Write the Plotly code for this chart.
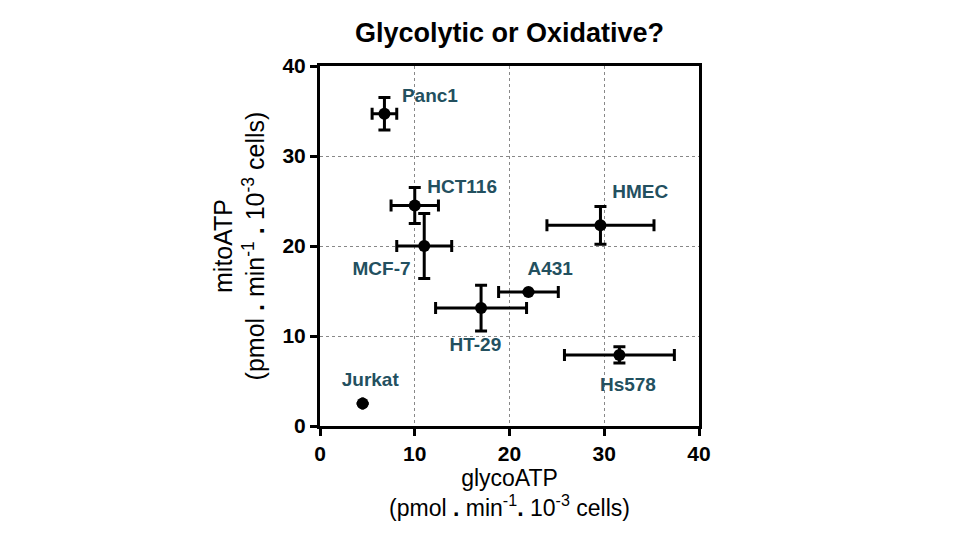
import plotly.graph_objects as go

cells = ["Panc1", "HCT116", "MCF-7", "HMEC", "A431", "HT-29", "Hs578", "Jurkat"]
glyco = [6.8, 10.0, 11.0, 29.6, 22.0, 17.0, 31.6, 4.5]
mito = [34.7, 24.5, 20.0, 22.3, 14.9, 13.1, 7.9, 2.5]
glyco_err = [1.3, 2.5, 2.9, 5.65, 3.15, 4.8, 5.8, 0.0]
mito_err = [1.8, 2.0, 3.6, 2.1, 0.0, 2.55, 0.9, 0.0]
label_x = [11.6, 15.0, 6.5, 33.8, 24.3, 16.4, 32.5, 5.3]
label_y = [36.5, 26.4, 17.3, 25.9, 17.3, 8.9, 4.4, 5.0]

x_ticks = [0, 10, 20, 30, 40]
y_ticks = [0, 10, 20, 30, 40]

LABEL_COLOR = "#23505f"
FONT = "Liberation Sans, Arial"

fig = go.Figure()
fig.add_trace(go.Scatter(
    x=glyco, y=mito, mode="markers",
    marker=dict(color="black", size=12),
    error_x=dict(type="data", array=glyco_err, color="black", thickness=3, width=6),
    error_y=dict(type="data", array=mito_err, color="black", thickness=3, width=6),
    showlegend=False, hoverinfo="skip",
))
fig.add_trace(go.Scatter(
    x=label_x, y=label_y, mode="text", text=cells,
    textfont=dict(family=FONT, size=19, color=LABEL_COLOR, weight="bold"),
    textposition="middle center", showlegend=False, hoverinfo="skip",
))

axis_common = dict(
    range=[0, 40], showline=True, linecolor="black", linewidth=3, mirror=True,
    ticks="outside", ticklen=7, tickwidth=3, tickcolor="black",
    showgrid=True, gridcolor="#888888", griddash="dot", gridwidth=1,
    zeroline=False,
    tickfont=dict(family=FONT, size=21, color="black", weight="bold"),
)

fig.update_layout(
    width=960, height=540,
    paper_bgcolor="white", plot_bgcolor="white",
    margin=dict(l=312, r=269, t=58, b=122),
    title=dict(text="<b>Glycolytic or Oxidative?</b>", xref="paper", x=0.5, xanchor="center",
               y=0.954, yanchor="middle",
               font=dict(family=FONT, size=27, color="black")),
    xaxis=dict(**axis_common, tickvals=x_ticks,
               title=dict(text="glycoATP<br>(pmol <b>.</b> min<sup>-1</sup><b>.</b> 10<sup>-3</sup> cells)",
                          font=dict(family=FONT, size=23, color="black"),
                          standoff=6)),
    yaxis=dict(**axis_common, tickvals=y_ticks,
               title=dict(text="mitoATP<br>(pmol <b>.</b> min<sup>-1</sup> <b>.</b> 10<sup>-3</sup> cells)",
                          font=dict(family=FONT, size=25, color="black"),
                          standoff=11)),
)

fig.write_html("out.html")
